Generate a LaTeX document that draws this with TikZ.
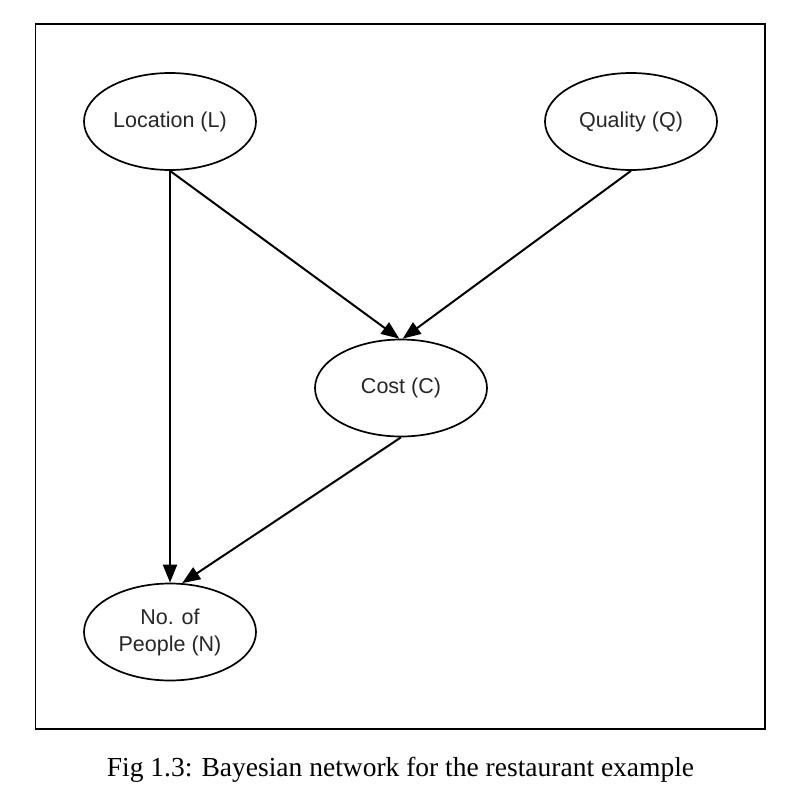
\documentclass[tikz,border=0pt]{standalone}
\usepackage{fontspec}
\setmainfont{Liberation Serif}
\newfontfamily\nodefont{Liberation Sans}
\usetikzlibrary{shapes.geometric,arrows.meta}
\tikzset{
  varnode/.style={ellipse, draw, line width=1.7pt, minimum width=172pt, minimum height=97pt, inner sep=0pt,
    font=\nodefont\fontsize{21.5}{27}\selectfont, text=black!85, align=center},
  edge/.style={line width=2pt, -{Triangle[length=18pt,width=14pt]}},
}
\begin{document}
\begin{tikzpicture}[x=1pt,y=-1pt]
\useasboundingbox (0,0) rectangle (790,794);
\draw[line width=1.2pt] (35.5,24) rectangle (765,729);
\node[varnode] (L) at (170,121.5) {Location (L)};
\node[varnode] (Q) at (631,121.5) {Quality (Q)};
\node[varnode] (C) at (401,388) {Cost (C)};
\node[varnode] (N) at (170,632) {No. of\\People (N)};
\draw[edge] (L.south) -- (N.north);
\draw[edge] (L.south) -- (C.92);
\draw[edge] (Q.south) -- (C.88);
\draw[edge] (C.south) -- (N.76);
\node[font=\fontsize{27.5}{33}\selectfont, anchor=base] (cap) at (400.5,776) {Fig 1.3: Bayesian network for the restaurant example};
\end{tikzpicture}
\end{document}
